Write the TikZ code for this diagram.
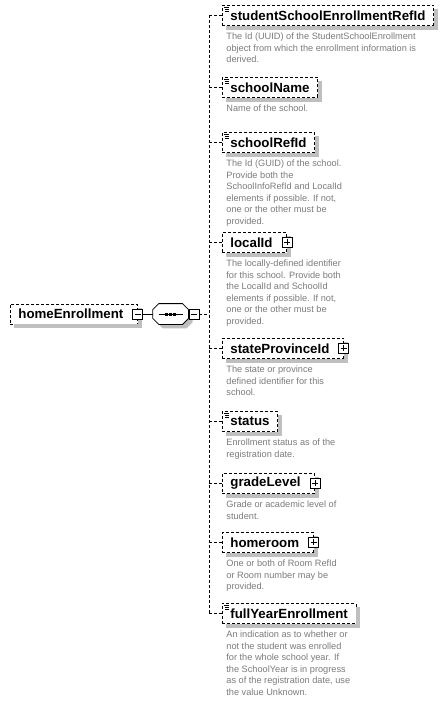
\documentclass[tikz,border=0pt]{standalone}
\usepackage{fontspec}
\setmainfont{Liberation Sans}
\usetikzlibrary{positioning}
\definecolor{docgray}{HTML}{7C7C7C}
\colorlet{boxshadow}{black!25}
\tikzset{
	dashline/.style={dash pattern=on 3pt off 2pt},
	elem/.style={draw,dashline,fill=white,anchor=north west,
		font=\fontsize{13.3}{15}\selectfont\bfseries,
		inner xsep=8pt,inner ysep=0pt,minimum height=20pt},
	haskids/.style={execute at end node={\hspace{6pt}}},
	valuetype/.style={path picture={
		\draw[solid,line width=.7pt] ([shift={(1.5,1.5)}]path picture bounding box.north west) -- ++(5,0);
		\foreach \k in {3.5,5.5}
			\draw[solid,line width=.7pt] ([shift={(2.5,\k)}]path picture bounding box.north west) -- ++(4,0);
		}},
	doc/.style={font=\fontsize{9.2}{11.5}\selectfont,text=docgray,align=left,inner sep=0pt},
	expand/.style={draw,solid,fill=white,minimum size=10pt,inner sep=0pt,line width=.8pt},
	minus/.style={expand,path picture={
		\draw[line width=.8pt] ([xshift=2pt]path picture bounding box.west) -- ([xshift=-2pt]path picture bounding box.east);
		}},
	plus/.style={expand,path picture={
		\draw[line width=.8pt] ([xshift=2pt]path picture bounding box.west) -- ([xshift=-2pt]path picture bounding box.east);
		\draw[line width=.8pt] ([yshift=-2pt]path picture bounding box.north) -- ([yshift=2pt]path picture bounding box.south);
		}},
	sequence/.style={minimum width=35pt,minimum height=20pt,inner sep=0pt}
}
% octagon round the sequence node, moved down and right by #1
\newcommand{\octpath}[1]{([shift={(6+#1,#1)}]seq.north west) -- ([shift={(-6+#1,#1)}]seq.north east)
	-- ([shift={(#1,6+#1)}]seq.north east) -- ([shift={(#1,-6+#1)}]seq.south east)
	-- ([shift={(-6+#1,#1)}]seq.south east) -- ([shift={(6+#1,#1)}]seq.south west)
	-- ([shift={(#1,-6+#1)}]seq.south west) -- ([shift={(#1,6+#1)}]seq.north west) -- cycle}

\begin{document}
\begin{tikzpicture}[x=1pt,y=-1pt,line width=.8pt]
	\useasboundingbox[fill=white] (0,0) rectangle (443,701);
%-----the parent and its sequence-----
	\node[elem,haskids,anchor=west] (home) at (10,314) {homeEnrollment};
	\node[sequence,anchor=west] (seq) at ([xshift=15pt]home.east) {};
	\path[fill=boxshadow] \octpath{4};
	\draw[fill=white] \octpath{0};
	\draw ([xshift=6pt]seq.west) -- ([xshift=-6pt]seq.east);
	\foreach \d in {-4,0,4}
		\fill ([xshift=\d pt]seq.center) +(-1.5,-1.5) rectangle +(1.5,1.5);
%-----the children-----
	\node[elem,valuetype] (studentref) at (222,5) {studentSchoolEnrollmentRefId};
	\node[doc,below right=7pt and 4pt of studentref.south west] (studentref-doc)
		{The Id (UUID) of the StudentSchoolEnrollment\\object from which the enrollment information is\\derived.};
	\node[elem,valuetype] (schoolname) at (222,77) {schoolName};
	\node[doc,below right=7pt and 4pt of schoolname.south west] (schoolname-doc)
		{Name of the school.};
	\node[elem,valuetype] (schoolref) at (222,132) {schoolRefId};
	\node[doc,below right=7pt and 4pt of schoolref.south west] (schoolref-doc)
		{The Id (GUID) of the school.\\Provide both the\\SchoolInfoRefId and LocalId\\elements if possible. If not,\\one or the other must be\\provided.};
	\node[elem,haskids] (localid) at (222,232) {localId};
	\node[doc,below right=7pt and 4pt of localid.south west] (localid-doc)
		{The locally-defined identifier\\for this school. Provide both\\the LocalId and SchoolId\\elements if possible. If not,\\one or the other must be\\provided.};
	\node[elem,haskids] (stateid) at (222,338) {stateProvinceId};
	\node[doc,below right=7pt and 4pt of stateid.south west] (stateid-doc)
		{The state or province\\defined identifier for this\\school.};
	\node[elem,valuetype] (status) at (222,411) {status};
	\node[doc,below right=7pt and 4pt of status.south west] (status-doc)
		{Enrollment status as of the\\registration date.};
	\node[elem,haskids] (grade) at (222,473) {gradeLevel};
	\node[doc,below right=7pt and 4pt of grade.south west] (grade-doc)
		{Grade or academic level of\\student.};
	\node[elem,haskids] (homeroom) at (222,532) {homeroom};
	\node[doc,below right=7pt and 4pt of homeroom.south west] (homeroom-doc)
		{One or both of Room RefId\\or Room number may be\\provided.};
	\node[elem,valuetype] (fullyear) at (222,603) {fullYearEnrollment};
	\node[doc,below right=7pt and 4pt of fullyear.south west] (fullyear-doc)
		{An indication as to whether or\\not the student was enrolled\\for the whole school year. If\\the SchoolYear is in progress\\as of the registration date, use\\the value Unknown.};
%-----grey shadows along the right and lower sides-----
	\foreach \c in {home,studentref,schoolname,schoolref,localid,stateid,status,grade,homeroom,fullyear}
	{
		\path[fill=boxshadow] ([yshift=-4pt]\c.north east) rectangle ([shift={(4,4)}]\c.south east);
		\path[fill=boxshadow] ([xshift=4pt]\c.south west) rectangle ([shift={(4,4)}]\c.south east);
	}
%-----expand and collapse boxes-----
	\node[minus] (home-exp) at (home.east) {};
	\node[minus,anchor=west] (seq-exp) at (seq.east) {};
	\foreach \c in {localid,stateid,grade,homeroom}
		\node[plus] (\c-exp) at (\c.east) {};
	\coordinate[right=10pt of seq-exp] (hub);
%-----connect them to the sequence-----
	\draw (home-exp) -- (seq);
	\draw[dashline] (seq-exp) -- (hub);
	\draw[dashline] (hub |- studentref.west) -- (hub |- fullyear.west);
	\foreach \c in {studentref,schoolname,schoolref,localid,stateid,status,grade,homeroom,fullyear}
		\draw[dashline] (hub |- \c.west) -- (\c.west);
\end{tikzpicture}
\end{document}
